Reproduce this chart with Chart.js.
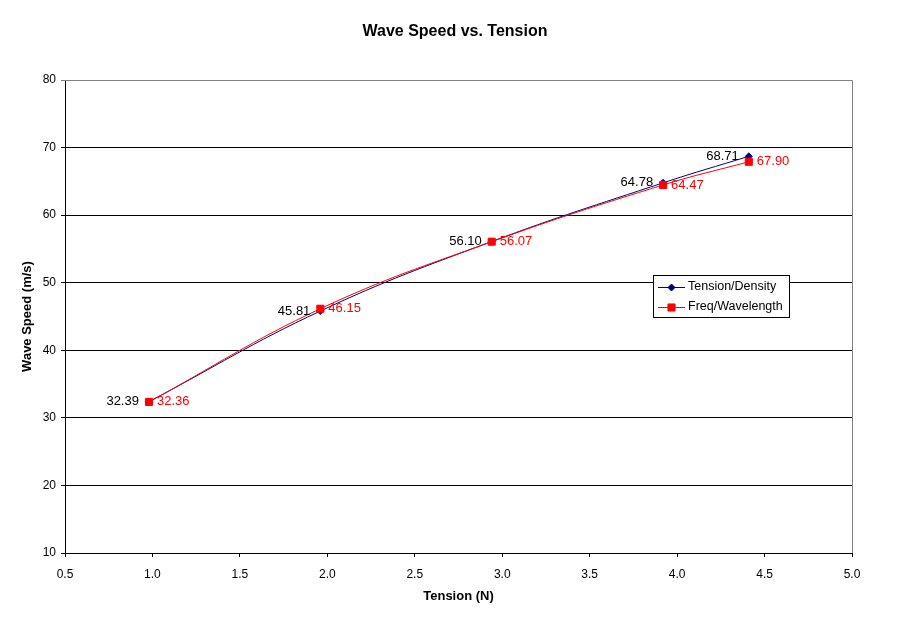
<!DOCTYPE html>
<html>
<head>
<meta charset="utf-8">
<script src="https://cdn.jsdelivr.net/npm/chart.js@4/dist/chart.umd.min.js"></script>
<style>
  html, body { margin: 0; padding: 0; background: #fff; }
  #wrap { width: 911px; height: 623px; }
</style>
</head>
<body>
<div id="wrap"><canvas id="chart" width="911" height="623"></canvas></div>
<script>
// Data
const tension = [0.98, 1.96, 2.94, 3.92, 4.41];
const speedDensity = [32.39, 45.81, 56.10, 64.78, 68.71];
const speedFreq = [32.36, 46.15, 56.07, 64.47, 67.90];
const seriesNames = ['Tension/Density', 'Freq/Wavelength'];
const chartTitle = 'Wave Speed vs. Tension';

const FONT = '"Liberation Sans", Arial, sans-serif';
const NAVY = '#000080';
const RED = '#ff0000';

const pts = (ys) => tension.map((x, i) => ({ x, y: ys[i] }));

// Title, gray frame, point labels and the legend box
const decorations = {
  id: 'decorations',
  beforeDatasetsDraw(chart) {
    const { ctx, chartArea: a } = chart;
    ctx.save();
    ctx.strokeStyle = '#808080';
    ctx.lineWidth = 1;
    ctx.beginPath();
    ctx.moveTo(a.left, a.top + 0.5);
    ctx.lineTo(a.right + 0.5, a.top + 0.5);
    ctx.lineTo(a.right + 0.5, a.bottom);
    ctx.stroke();
    ctx.restore();
  },
  afterDraw(chart) {
    const { ctx } = chart;
    ctx.save();
    ctx.fillStyle = '#000';
    ctx.font = 'bold 16px ' + FONT;
    ctx.textAlign = 'center';
    ctx.textBaseline = 'middle';
    ctx.fillText(chartTitle, 455, 32);

    // point labels
    ctx.font = '13px ' + FONT;
    const m0 = chart.getDatasetMeta(1); // Tension/Density
    const m1 = chart.getDatasetMeta(0); // Freq/Wavelength
    m0.data.forEach((p, i) => {
      ctx.fillStyle = '#000';
      ctx.textAlign = 'right';
      ctx.fillText(speedDensity[i].toFixed(2), p.x - 10, p.y);
    });
    m1.data.forEach((p, i) => {
      ctx.fillStyle = RED;
      ctx.textAlign = 'left';
      ctx.fillText(speedFreq[i].toFixed(2), p.x + 8, p.y);
    });

    // legend
    const lx = 653, ly = 275, lw = 136, lh = 42;
    ctx.fillStyle = '#fff';
    ctx.fillRect(lx, ly, lw, lh);
    ctx.strokeStyle = '#000';
    ctx.lineWidth = 1;
    ctx.strokeRect(lx + 0.5, ly + 0.5, lw, lh);
    const rows = [
      { name: seriesNames[0], color: NAVY, style: 'rectRot', r: 3.5, y: 287 },
      { name: seriesNames[1], color: RED, style: 'rect', r: 5, y: 307 }
    ];
    ctx.font = '12.5px ' + FONT;
    rows.forEach(row => {
      ctx.strokeStyle = row.color;
      ctx.beginPath();
      ctx.moveTo(658, row.y + 0.5);
      ctx.lineTo(685, row.y + 0.5);
      ctx.stroke();
      ctx.fillStyle = row.color;
      Chart.helpers.drawPoint(ctx, { pointStyle: row.style, radius: row.r, borderWidth: 1 }, 671.5, row.y + 0.5);
      ctx.fillStyle = '#000';
      ctx.textAlign = 'left';
      ctx.fillText(row.name, 688, row.y);
    });
    ctx.restore();
  }
};

new Chart(document.getElementById('chart'), {
  type: 'scatter',
  data: {
    datasets: [
      {
        label: seriesNames[1],
        data: pts(speedFreq),
        showLine: true,
        tension: 0.4,
        borderColor: RED,
        backgroundColor: RED,
        borderWidth: 1,
        pointStyle: 'rect',
        pointRadius: 5,
        pointBorderWidth: 1,
        order: 0
      },
      {
        label: seriesNames[0],
        data: pts(speedDensity),
        showLine: true,
        tension: 0.4,
        borderColor: NAVY,
        backgroundColor: NAVY,
        borderWidth: 1,
        pointStyle: 'rectRot',
        pointRadius: 3.5,
        pointBorderWidth: 1,
        order: 1
      }
    ]
  },
  options: {
    responsive: false,
    animation: false,
    devicePixelRatio: 1,
    layout: { padding: { top: 80, right: 59, left: 0, bottom: 0 } },
    plugins: {
      legend: { display: false },
      title: { display: false },
      tooltip: { enabled: false }
    },
    scales: {
      x: {
        type: 'linear',
        min: 0.5,
        max: 5.0,
        afterFit: s => { s.height = 70; },
        ticks: {
          stepSize: 0.5,
          padding: 10,
          color: '#000',
          font: { family: FONT, size: 12 },
          callback: v => v.toFixed(1)
        },
        grid: { drawOnChartArea: false, tickLength: 4, color: '#000' },
        border: { color: '#000' },
        title: {
          display: true,
          text: 'Tension (N)',
          color: '#000',
          font: { family: FONT, size: 13, weight: 'bold' },
          padding: { top: 0, bottom: 19 }
        }
      },
      y: {
        min: 10,
        max: 80,
        afterFit: s => { s.width = 65; },
        ticks: {
          stepSize: 10,
          padding: 5,
          color: '#000',
          font: { family: FONT, size: 12 }
        },
        grid: {
          tickLength: 4,
          color: ctx => (ctx.tick && ctx.tick.value === 80) ? '#808080' : '#000'
        },
        border: { color: '#000' },
        title: {
          display: true,
          text: 'Wave Speed (m/s)',
          color: '#000',
          font: { family: FONT, size: 13, weight: 'bold' },
          padding: { top: 20, bottom: 0 }
        }
      }
    }
  },
  plugins: [decorations]
});
</script>
</body>
</html>
